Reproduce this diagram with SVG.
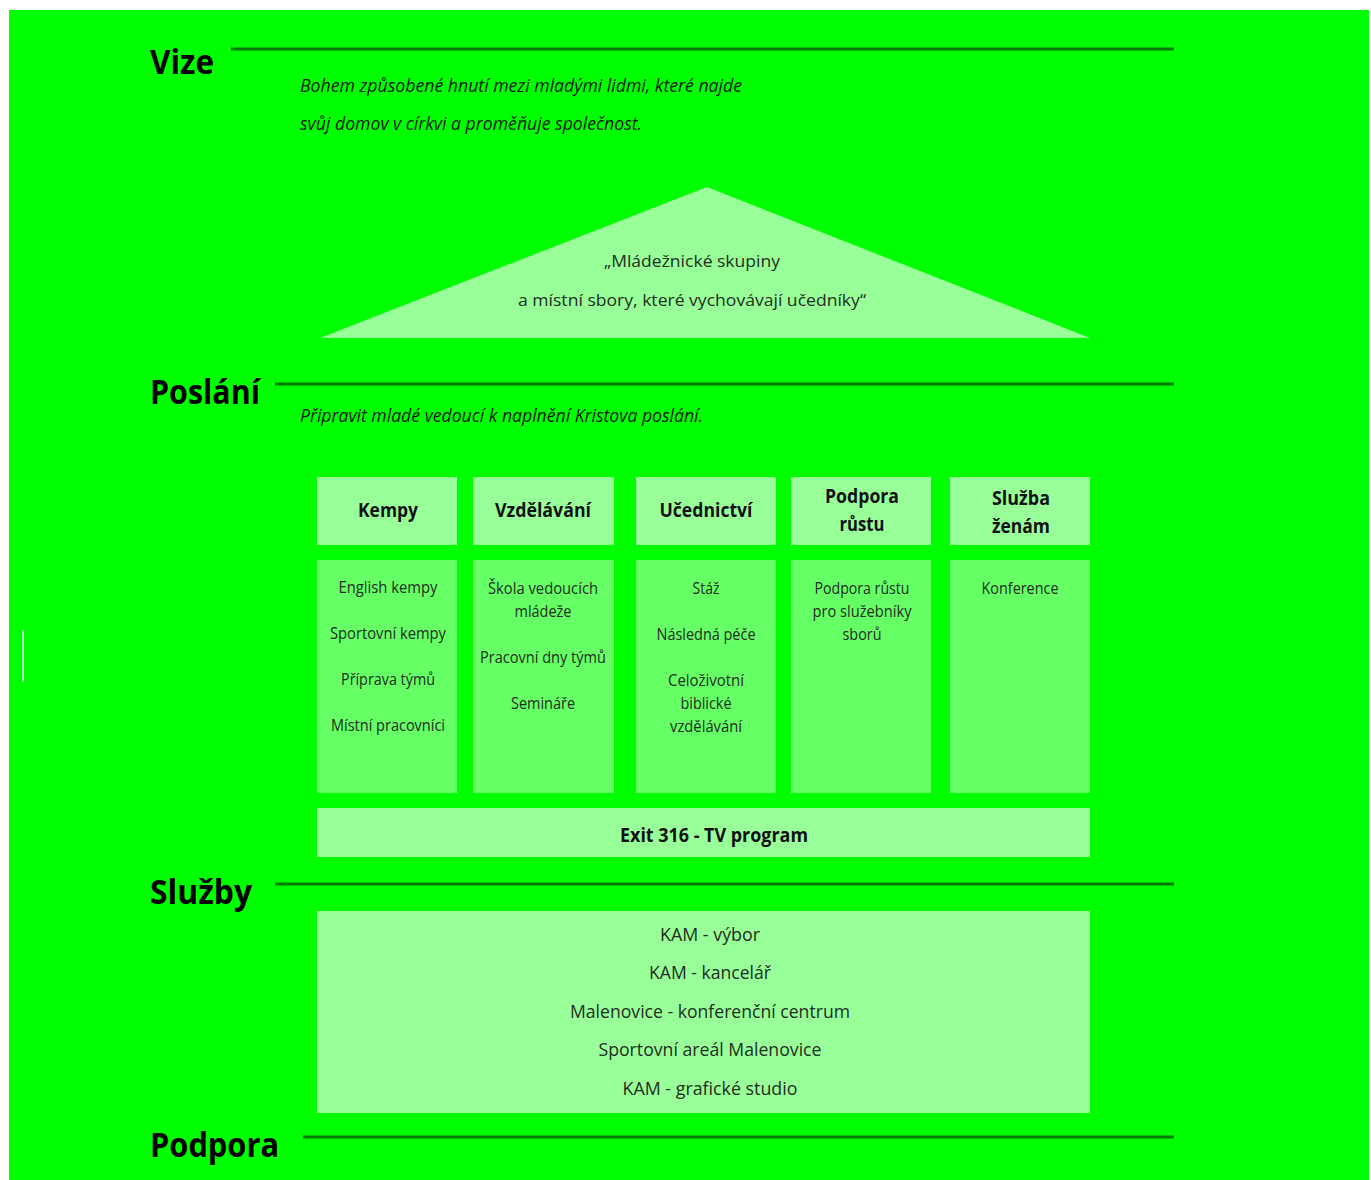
<svg xmlns="http://www.w3.org/2000/svg" width="1371" height="1180" viewBox="0 0 1371 1180">
<style>
.title{font-family:"Open Sans","Liberation Sans",sans-serif;font-weight:bold;font-size:34px;fill:#000}
.it{font-family:"Open Sans","Liberation Sans",sans-serif;font-style:italic;font-size:19px;fill:#0a1a0a}
.hd{font-family:"Open Sans","Liberation Sans",sans-serif;font-weight:bold;font-size:19px;fill:#111;text-anchor:middle}
.bd{font-family:"Open Sans","Liberation Sans",sans-serif;font-size:16px;fill:#1e2e1e;text-anchor:middle}
.tx{font-family:"Open Sans","Liberation Sans",sans-serif;font-size:19px;fill:#1e2e1e;text-anchor:middle}
.rule{stroke:#007a00;stroke-width:3}
.hbox{fill:#99ff99}
.bbox{fill:#66ff66}
</style>
<rect x="0" y="0" width="1371" height="1180" fill="#ffffff"/>
<rect x="9" y="10" width="1360" height="1170" fill="#00ff00"/>
<rect x="22" y="630" width="2" height="52" fill="#aaffaa"/>
<g id="rules">
<line class="rule" x1="231" y1="49" x2="1174" y2="49"/>
<line class="rule" x1="275" y1="384" x2="1174" y2="384"/>
<line class="rule" x1="275" y1="884" x2="1174" y2="884"/>
<line class="rule" x1="303" y1="1137" x2="1174" y2="1137"/>
</g>
<g id="vize">
<text class="title" x="150" y="74" textLength="64" lengthAdjust="spacingAndGlyphs">Vize</text>
<text class="it" x="300" y="92" textLength="442" lengthAdjust="spacingAndGlyphs">Bohem způsobené hnutí mezi mladými lidmi, které najde</text>
<text class="it" x="300" y="130" textLength="342" lengthAdjust="spacingAndGlyphs">svůj domov v církvi a proměňuje společnost.</text>
</g>
<g id="roof">
<polygon points="707,187 320,338 1090,338" fill="#99ff99"/>
<text class="bd" x="692" y="267" font-size="18" textLength="176" lengthAdjust="spacingAndGlyphs">„Mládežnické skupiny</text>
<text class="bd" x="692" y="306" font-size="18" textLength="348" lengthAdjust="spacingAndGlyphs">a místní sbory, které vychovávají učedníky“</text>
</g>
<g id="poslani">
<text class="title" x="150" y="404" textLength="110" lengthAdjust="spacingAndGlyphs">Poslání</text>
<text class="it" x="300" y="422" textLength="403" lengthAdjust="spacingAndGlyphs">Připravit mladé vedoucí k naplnění Kristova poslání.</text>
</g>
<g id="kempy">
<rect class="hbox" x="317" y="477" width="140" height="68"/>
<text class="hd" x="388" y="517" textLength="60" lengthAdjust="spacingAndGlyphs">Kempy</text>
<rect class="bbox" x="317" y="560" width="140" height="233"/>
<text class="bd" x="388" y="593" textLength="99" lengthAdjust="spacingAndGlyphs">English kempy</text>
<text class="bd" x="388" y="639" textLength="116" lengthAdjust="spacingAndGlyphs">Sportovní kempy</text>
<text class="bd" x="388" y="685" textLength="94" lengthAdjust="spacingAndGlyphs">Příprava týmů</text>
<text class="bd" x="388" y="731" textLength="114" lengthAdjust="spacingAndGlyphs">Místní pracovníci</text>
</g>
<g id="vzdelavani">
<rect class="hbox" x="473" y="477" width="141" height="68"/>
<text class="hd" x="543" y="517" textLength="96" lengthAdjust="spacingAndGlyphs">Vzdělávání</text>
<rect class="bbox" x="473" y="560" width="141" height="233"/>
<text class="bd" x="543" y="594" textLength="110" lengthAdjust="spacingAndGlyphs">Škola vedoucích</text>
<text class="bd" x="543" y="617" textLength="57" lengthAdjust="spacingAndGlyphs">mládeže</text>
<text class="bd" x="543" y="663" textLength="126" lengthAdjust="spacingAndGlyphs">Pracovní dny týmů</text>
<text class="bd" x="543" y="709" textLength="64" lengthAdjust="spacingAndGlyphs">Semináře</text>
</g>
<g id="ucednictvi">
<rect class="hbox" x="636" y="477" width="140" height="68"/>
<text class="hd" x="706" y="517" textLength="93" lengthAdjust="spacingAndGlyphs">Učednictví</text>
<rect class="bbox" x="636" y="560" width="140" height="233"/>
<text class="bd" x="706" y="594" textLength="27" lengthAdjust="spacingAndGlyphs">Stáž</text>
<text class="bd" x="706" y="640" textLength="99" lengthAdjust="spacingAndGlyphs">Následná péče</text>
<text class="bd" x="706" y="686" textLength="76" lengthAdjust="spacingAndGlyphs">Celoživotní</text>
<text class="bd" x="706" y="709" textLength="51" lengthAdjust="spacingAndGlyphs">biblické</text>
<text class="bd" x="706" y="732" textLength="72" lengthAdjust="spacingAndGlyphs">vzdělávání</text>
</g>
<g id="podpora-rustu">
<rect class="hbox" x="791" y="477" width="140" height="68"/>
<text class="hd" x="862" y="503" textLength="74" lengthAdjust="spacingAndGlyphs">Podpora</text>
<text class="hd" x="862" y="531" textLength="45" lengthAdjust="spacingAndGlyphs">růstu</text>
<rect class="bbox" x="791" y="560" width="140" height="233"/>
<text class="bd" x="862" y="594" textLength="95" lengthAdjust="spacingAndGlyphs">Podpora růstu</text>
<text class="bd" x="862" y="617" textLength="99" lengthAdjust="spacingAndGlyphs">pro služebníky</text>
<text class="bd" x="862" y="640" textLength="39" lengthAdjust="spacingAndGlyphs">sborů</text>
</g>
<g id="sluzba-zenam">
<rect class="hbox" x="950" y="477" width="140" height="68"/>
<text class="hd" x="1021" y="505" textLength="58" lengthAdjust="spacingAndGlyphs">Služba</text>
<text class="hd" x="1021" y="533" textLength="58" lengthAdjust="spacingAndGlyphs">ženám</text>
<rect class="bbox" x="950" y="560" width="140" height="233"/>
<text class="bd" x="1020" y="594" textLength="77" lengthAdjust="spacingAndGlyphs">Konference</text>
</g>
<g id="exit316">
<rect class="hbox" x="317" y="808" width="773" height="49"/>
<text class="hd" x="714" y="842" textLength="188" lengthAdjust="spacingAndGlyphs">Exit 316 - TV program</text>
</g>
<g id="sluzby">
<text class="title" x="150" y="904" textLength="102" lengthAdjust="spacingAndGlyphs">Služby</text>
<rect class="hbox" x="317" y="911" width="773" height="202"/>
<text class="tx" x="710" y="941" textLength="100" lengthAdjust="spacingAndGlyphs">KAM - výbor</text>
<text class="tx" x="710" y="979" textLength="122" lengthAdjust="spacingAndGlyphs">KAM - kancelář</text>
<text class="tx" x="710" y="1018" textLength="280" lengthAdjust="spacingAndGlyphs">Malenovice - konferenční centrum</text>
<text class="tx" x="710" y="1056" textLength="223" lengthAdjust="spacingAndGlyphs">Sportovní areál Malenovice</text>
<text class="tx" x="710" y="1095" textLength="175" lengthAdjust="spacingAndGlyphs">KAM - grafické studio</text>
</g>
<g id="podpora">
<text class="title" x="150" y="1157" textLength="129" lengthAdjust="spacingAndGlyphs">Podpora</text>
</g>
</svg>
